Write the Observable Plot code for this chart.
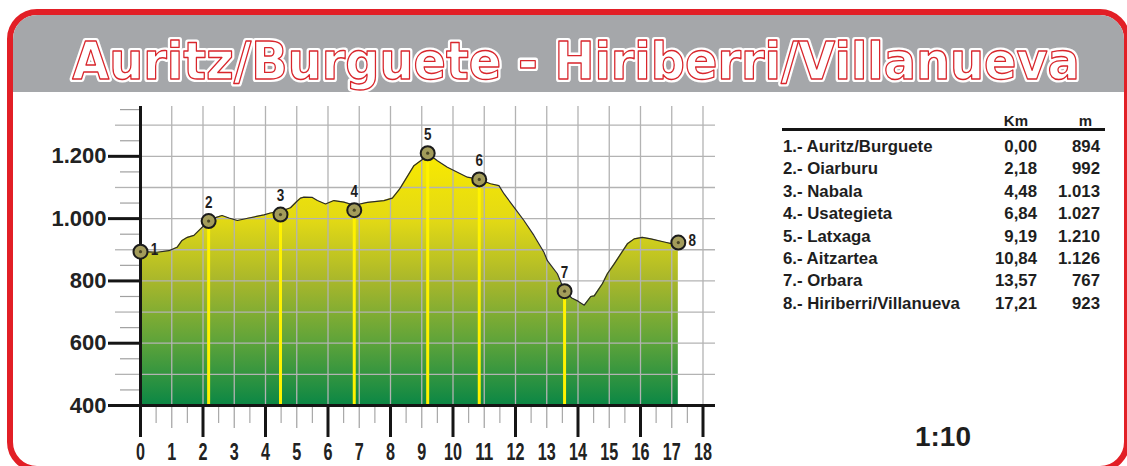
<!DOCTYPE html>
<html>
<head>
<meta charset="utf-8">
<script src="https://cdn.jsdelivr.net/npm/d3@7"></script>
<script src="https://cdn.jsdelivr.net/npm/@observablehq/plot@0.6"></script>
<style>
  html, body { margin: 0; padding: 0; background: #fff; }
  #page { position: relative; width: 1127px; height: 466px; overflow: hidden;
          font-family: "Liberation Sans", Arial, sans-serif; color: #1e1e1e; }
  #frame { position: absolute; left: 7px; top: 9px; width: 1123px; height: 463px;
           box-sizing: border-box; border: 6px solid #e21f26; border-radius: 30px;
           overflow: hidden; background: #fff; }
  #band { position: absolute; left: 0; top: 0; right: 0; height: 77px; background: #a5a7aa; }
  #title { position: absolute; left: 0; top: 0; }
  #chart { position: absolute; left: 0; top: 95px; }
  #table-head, #table-rule, #table-body { position: absolute; left: 783px; width: 317px; }
  #table-head { top: 111px; font-weight: bold; font-size: 15px; line-height: 20px; }
  #table-rule { top: 128px; left: 782px; width: 323px; height: 3px; background: #141414; }
  #table-body { top: 136px; font-weight: bold; font-size: 16.8px; line-height: 22.4px; }
  .row { display: grid; grid-template-columns: 1fr 60px 63px; white-space: nowrap; }
  .num { text-align: right; }
  #table-head .km { padding-right: 9px; }
  #table-head .m { padding-right: 8px; }
  #scale { position: absolute; left: 880px; width: 126px; top: 423px; text-align: center;
           font-weight: bold; font-size: 28px; line-height: 28px; }
</style>
</head>
<body>
<div id="page">
  <div id="frame"><div id="band"></div></div>
  <svg id="title" width="1127" height="100"></svg>
  <div id="chart"></div>
  <div id="table-head"></div>
  <div id="table-rule"></div>
  <div id="table-body"></div>
  <div id="scale"></div>
</div>
<script>
// Stage: Auritz/Burguete → Hiriberri/Villanueva
const title = "Auritz/Burguete - Hiriberri/Villanueva";
const scaleNote = "1:10";

// Waypoints along the stage
const stopNames = ["Auritz/Burguete", "Oiarburu", "Nabala", "Usategieta", "Latxaga", "Aitzartea", "Orbara", "Hiriberri/Villanueva"];
const stopKm = [0.00, 2.18, 4.48, 6.84, 9.19, 10.84, 13.57, 17.21];
const stopM = [894, 992, 1013, 1027, 1210, 1126, 767, 923];

// Elevation profile (distance in km, altitude in m)
const profileKm = [0.00, 0.25, 0.53, 0.91, 1.17, 1.33, 1.50, 1.71, 1.92, 2.18, 2.40, 2.61, 2.83, 3.10, 3.47, 3.95, 4.16, 4.48, 4.80, 5.00, 5.12, 5.23, 5.50, 5.66, 5.92, 6.19, 6.51, 6.84, 7.26, 7.79, 8.06, 8.27, 8.33, 8.75, 9.02, 9.19, 9.50, 9.82, 10.14, 10.46, 10.84, 11.20, 11.47, 11.63, 11.95, 12.27, 12.59, 12.91, 13.02, 13.34, 13.57, 13.80, 14.00, 14.20, 14.41, 14.52, 14.78, 14.94, 15.16, 15.58, 15.80, 16.06, 16.33, 16.76, 17.02, 17.21];
const profileM = [894, 893, 892, 897, 908, 930, 940, 946, 967, 992, 1003, 1010, 1002, 994, 1002, 1012, 1018, 1023, 1035, 1055, 1066, 1069, 1068, 1058, 1047, 1058, 1053, 1043, 1052, 1058, 1066, 1092, 1101, 1170, 1190, 1210, 1186, 1165, 1149, 1133, 1126, 1112, 1106, 1080, 1037, 994, 946, 892, 865, 823, 767, 745, 735, 722, 750, 752, 791, 823, 855, 919, 935, 940, 935, 925, 919, 923];

// Axis ticks
const kmTicks = d3.range(0, 19);
const kmMajor = d3.range(0, 19, 2);
const kmOdd = d3.range(1, 19, 2);
const kmHalf = d3.range(0.5, 18, 1);
const mTicks = [400, 600, 800, 1000, 1200];
const mGrid = [500, 600, 700, 800, 900, 1000, 1100, 1200, 1300];
const mGridExt = [500, 700, 900, 1100, 1300];
const mHalf = [450, 550, 650, 750, 850, 950, 1050, 1150, 1250, 1350];

// Fill colours by altitude
const fillStops = [[1200, "#f8e900"], [1000, "#e4da14"], [800, "#a9b72b"], [600, "#5da33a"], [400, "#0b8745"]];

const locale = d3.formatLocale({decimal: ",", thousands: ".", grouping: [3], currency: ["", ""]});
const fmtM = locale.format(",d");
const fmtKm = locale.format(".2f");

const profile = profileKm.map((km, i) => ({km, m: profileM[i]}));
const stops = stopNames.map((name, i) => ({n: i + 1, name, km: stopKm[i], m: stopM[i]}));

const regular = "'Liberation Sans', Arial, sans-serif";

// Gradient definition, placed in user space so colour follows altitude
const gradientDefs = (index, {y}) => {
  const defs = d3.create("svg:defs");
  const y0 = y(fillStops[0][0]), y1 = y(fillStops[fillStops.length - 1][0]);
  const g = defs.append("linearGradient")
    .attr("id", "elev-fill").attr("gradientUnits", "userSpaceOnUse")
    .attr("x1", 0).attr("x2", 0).attr("y1", y0).attr("y2", y1);
  for (const [alt, color] of fillStops) {
    g.append("stop").attr("offset", (y(alt) - y0) / (y1 - y0)).attr("stop-color", color);
  }
  return defs.node();
};

const gridColor = "#b3b3b3";

const chart = Plot.plot({
  width: 740,
  height: 371,
  marginLeft: 140,
  marginRight: 25,
  marginTop: 11,
  marginBottom: 61,
  x: {domain: [0, 18.4], axis: null},
  y: {domain: [400, 1360], axis: null},
  style: {background: "transparent", overflow: "visible", fontFamily: regular},
  marks: [
    gradientDefs,
    Plot.areaY(profile, {x: "km", y: "m", y1: 400, fill: "url(#elev-fill)"}),
    Plot.gridX(d3.range(1, 19), {stroke: gridColor, strokeOpacity: 1, strokeWidth: 1.3}),
    Plot.gridY(mGrid, {stroke: gridColor, strokeOpacity: 1, strokeWidth: 1.3}),
    Plot.axisY(mGridExt, {tickSize: 25, text: null, label: null, stroke: gridColor, strokeWidth: 1.3}),
    Plot.axisY(mHalf, {tickSize: 20, text: null, label: null, stroke: "#a0a0a0", strokeWidth: 1.2}),
    Plot.line(profile, {x: "km", y: "m", stroke: "#2a2a2a", strokeWidth: 1.2}),
    Plot.ruleX(stops.slice(1, 7), {x: "km", y1: 400, y2: "m", stroke: "#fff200", strokeWidth: 3}),
    Plot.axisY(mTicks, {tickSize: 32, tickPadding: 2, strokeWidth: 3, stroke: "#151515", label: null,
      tickFormat: fmtM, fontSize: 22, fontWeight: "bold", fill: "#222"}),
    Plot.axisX(kmHalf, {tickSize: 18, text: null, label: null, stroke: "#a8a8a8", strokeWidth: 1.2}),
    Plot.axisX(kmOdd, {tickSize: 23, text: null, label: null, stroke: "#a8a8a8", strokeWidth: 1.3}),
    Plot.axisX(kmMajor, {tickSize: 32, text: null, label: null, stroke: "#151515", strokeWidth: 3}),
    Plot.axisX(kmTicks, {tickSize: 0, tickPadding: 38, label: null, fontSize: 23, fontWeight: "bold", fill: "#222"}),
    Plot.ruleY([400], {stroke: "#151515", strokeWidth: 3}),
    Plot.ruleX([0], {y1: 400, y2: 1360, stroke: "#151515", strokeWidth: 3}),
    Plot.dot(stops, {x: "km", y: "m", r: 7, fill: "#a39c5a", stroke: "#1b1b1b", strokeWidth: 2}),
    Plot.dot(stops, {x: "km", y: "m", r: 1.6, fill: "#4a4626"}),
    Plot.text(stops.slice(1, 7), {x: "km", y: "m", text: "n", dy: -19, fontSize: 17, fontWeight: "bold", fill: "#1e1e1e"}),
    Plot.text([stops[0], stops[7]], {x: "km", y: "m", text: "n", dx: 14, dy: -2, fontSize: 17, fontWeight: "bold", fill: "#1e1e1e"})
  ]
});

// Condensed numerals for the distance labels and waypoint numbers
const condense = (selector, perChar) => {
  d3.select(chart).selectAll(selector).each(function () {
    this.setAttribute("textLength", this.textContent.length * perChar);
    this.setAttribute("lengthAdjust", "spacingAndGlyphs");
  });
};
condense('[aria-label="x-axis tick label"] text', 9);
condense('[aria-label="text"] text', 7.5);
document.getElementById("chart").append(chart);

// Title with outlined lettering, squeezed horizontally to the band width
const titleWidth = 1008;
const tg = d3.select("#title").append("g")
  .attr("font-family", "'DejaVu Sans', sans-serif").attr("font-weight", "bold")
  .attr("font-size", 52).attr("text-anchor", "middle");
const layers = [["#ffffff", 6], ["#d8262c", 1.3]].map(([stroke, width]) =>
  tg.append("text").attr("x", 0).attr("y", 0)
    .attr("fill", "#fff").attr("stroke", stroke).attr("stroke-width", width)
    .attr("stroke-linejoin", "round").attr("vector-effect", "non-scaling-stroke").text(title));
const natural = layers[1].node().getComputedTextLength();
tg.attr("transform", `translate(576,79) scale(${titleWidth / natural},1)`);

// Waypoint table
const head = d3.select("#table-head").append("div").attr("class", "row");
head.append("div");
head.append("div").attr("class", "num km").text("Km");
head.append("div").attr("class", "num m").text("m");
const rows = d3.select("#table-body").selectAll("div").data(stops).join("div").attr("class", "row");
rows.append("div").text(d => `${d.n}.- ${d.name}`);
rows.append("div").attr("class", "num").text(d => fmtKm(d.km));
rows.append("div").attr("class", "num").text(d => fmtM(d.m));

d3.select("#scale").text(scaleNote);
</script>
</body>
</html>
